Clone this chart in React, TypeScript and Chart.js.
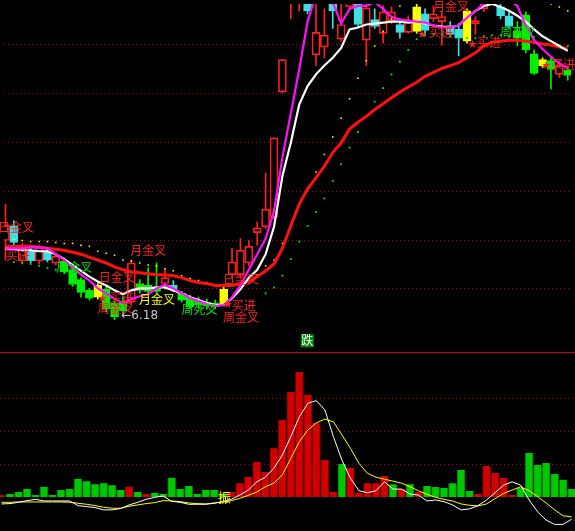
import React, { useEffect, useRef } from "react";
import { Chart, registerables } from "chart.js";

Chart.register(...registerables);

// ---------- axes ranges ----------
const X_MIN = -0.176;
const X_MAX = 67.39;
const PRICE_MIN = 5.89;
const PRICE_MAX = 9.41;
const VOL_MIN = -10.3;
const VOL_MAX = 43.94;

const priceGrid = [6.5, 7.0, 7.5, 8.0, 8.5, 9.0];
const volumeGrid = [10, 20, 30];

// ---------- candles ----------
const candleOpen = [6.99, 7.14, 6.78, 6.88, 6.78, 6.88, 6.76, 6.78, 6.69, 6.59,
  6.48, 6.53, 6.49, 6.35, 6.36, 6.36, 6.55, 6.53, 6.50, 6.55,
  6.53, 6.45, 6.41, 6.38, 6.36, 6.35, 6.49, 6.64, 6.64, 6.76,
  7.07, 7.13, 7.23, 8.51, 9.46, 9.51, 9.61, 8.89, 8.97, 9.46,
  9.05, 9.38, 9.44, 9.04, 9.25, 9.11, 9.24, 9.20, 9.12, 9.38,
  9.31, 9.26, 9.23, 9.19, 9.15, 9.34, 9.21, 9.36, 9.44, 9.38,
  9.29, 9.13, 9.30, 8.90, 8.84, 8.83, 8.69, 8.73];
const candleClose = [7.15, 6.97, 6.91, 6.78, 6.92, 6.79, 6.83, 6.67, 6.54, 6.46,
  6.40, 6.41, 6.29, 6.21, 6.27, 6.76, 6.48, 6.47, 6.47, 6.61,
  6.49, 6.38, 6.31, 6.33, 6.32, 6.31, 6.34, 6.77, 6.89, 6.93,
  7.12, 7.31, 8.04, 8.84, 9.81, 9.91, 9.34, 9.12, 9.09, 9.34,
  9.20, 9.49, 9.20, 9.37, 9.18, 9.33, 9.33, 9.12, 9.23, 9.13,
  9.14, 9.31, 9.28, 9.10, 9.06, 9.03, 9.24, 9.51, 9.56, 9.29,
  9.18, 9.06, 8.94, 8.70, 8.78, 8.74, 8.78, 8.68];
const candleHigh = [7.36, 7.19, 6.96, 6.91, 6.94, 6.90, 6.86, 6.81, 6.71, 6.61,
  6.50, 6.55, 6.51, 6.37, 6.41, 6.79, 6.59, 6.71, 6.76, 6.69,
  6.58, 6.47, 6.43, 6.41, 6.39, 6.38, 6.51, 6.91, 7.01, 6.99,
  7.18, 7.68, 8.04, 8.84, 9.86, 9.96, 9.66, 9.46, 9.36, 9.51,
  9.43, 9.56, 9.46, 9.43, 9.36, 9.39, 9.38, 9.26, 9.29, 9.41,
  9.36, 9.39, 9.33, 9.23, 9.21, 9.36, 9.28, 9.56, 9.61, 9.43,
  9.33, 9.23, 9.33, 8.94, 8.86, 8.86, 8.83, 8.77];
const candleLow = [6.79, 6.91, 6.75, 6.76, 6.75, 6.77, 6.74, 6.65, 6.52, 6.41,
  6.38, 6.39, 6.26, 6.18, 6.23, 6.33, 6.45, 6.45, 6.45, 6.49,
  6.47, 6.36, 6.29, 6.30, 6.29, 6.29, 6.32, 6.61, 6.62, 6.73,
  6.94, 7.11, 7.21, 8.50, 9.26, 9.34, 9.31, 8.78, 8.86, 9.16,
  9.03, 9.36, 9.18, 8.78, 9.16, 9.01, 9.21, 9.06, 9.11, 9.11,
  9.09, 9.23, 8.99, 9.08, 8.88, 9.01, 9.10, 9.33, 9.41, 9.26,
  9.16, 8.98, 8.91, 8.69, 8.76, 8.54, 8.66, 8.63];
// r = red hollow, c = cyan, g = green, y = yellow
const candleKind = ["r", "c", "r", "c", "r", "c", "r", "g", "g", "g",
  "g", "y", "g", "g", "g", "r", "g", "g", "g", "r",
  "c", "g", "g", "g", "g", "g", "y", "r", "r", "r",
  "r", "r", "r", "r", "r", "r", "c", "r", "r", "c",
  "r", "r", "c", "r", "c", "r", "r", "c", "r", "y",
  "c", "r", "r", "c", "c", "y", "r", "r", "r", "c",
  "c", "g", "g", "g", "y", "g", "r", "g"];

// ---------- price lines ----------
const lineWhite = [6.91, 6.90, 6.89, 6.89, 6.88, 6.88, 6.85, 6.80, 6.74, 6.68,
  6.62, 6.57, 6.53, 6.48, 6.44, 6.48, 6.50, 6.50, 6.51, 6.51,
  6.48, 6.45, 6.41, 6.38, 6.35, 6.33, 6.33, 6.40, 6.49, 6.61,
  6.69, 6.85, 7.13, 7.65, 7.99, 8.38, 8.57, 8.69, 8.78, 8.86,
  8.96, 9.15, 9.17, 9.20, 9.21, 9.22, 9.23, 9.23, 9.22, 9.23,
  9.21, 9.19, 9.18, 9.17, 9.19, 9.27, 9.34, 9.39, 9.41, 9.38,
  9.34, 9.29, 9.23, 9.15, 9.08, 9.03, 8.98, 8.93];
const lineMagenta = [6.91, 6.91, 6.91, 6.92, 6.92, 6.91, 6.85, 6.79, 6.71, 6.64,
  6.58, 6.50, 6.45, 6.39, 6.35, 6.39, 6.42, 6.44, 6.50, 6.54,
  6.50, 6.45, 6.40, 6.37, 6.34, 6.32, 6.33, 6.41, 6.53, 6.69,
  6.85, 7.01, 7.29, 7.84, 8.29, 8.74, 9.23, 9.51, 9.49, 9.43,
  9.21, 9.36, 9.39, 9.39, 9.43, 9.36, 9.28, 9.25, 9.24, 9.23,
  9.22, 9.19, 9.17, 9.17, 9.19, 9.27, 9.34, 9.41, 9.46, 9.49,
  9.45, 9.39, 9.19, 9.04, 8.95, 8.87, 8.80, 8.76];
const lineRed = [6.93, 6.93, 6.93, 6.93, 6.92, 6.91, 6.90, 6.89, 6.87, 6.85,
  6.82, 6.79, 6.76, 6.72, 6.69, 6.67, 6.66, 6.65, 6.64, 6.64,
  6.63, 6.61, 6.58, 6.56, 6.55, 6.53, 6.53, 6.53, 6.55, 6.57,
  6.62, 6.68, 6.75, 6.91, 7.14, 7.36, 7.52, 7.63, 7.75, 7.89,
  7.99, 8.13, 8.20, 8.26, 8.33, 8.39, 8.45, 8.51, 8.56, 8.61,
  8.67, 8.71, 8.75, 8.78, 8.81, 8.86, 8.91, 8.98, 9.02, 9.03,
  9.04, 9.04, 9.03, 9.02, 9.00, 8.99, 8.97, 8.95];
const dotsYellow = [null, 7.00, 6.99, 6.98, 6.98, 6.98, 6.97, 6.96, 6.96, 6.94,
  6.93, 6.88, 6.86, 6.84, 6.79, 6.78, 6.76, 6.74, 6.73, 6.70,
  6.68, 6.63, 6.60, 6.58, 6.56, null, null, null, null, null,
  6.64, 6.73, 6.79, 6.96, 7.15, 7.34, 7.53, 7.69, 7.87, 8.05,
  8.24, 8.44, 8.65, 8.83, 8.98, 9.13, 9.26, 9.39, null, null,
  null, null, null, null, null, null, null, null, null, null,
  null, null, null, null, null, 9.41, 9.38, 9.34];
const dotsGreen = [null, 6.77, 6.76, 6.75, 6.73, 6.71, 6.69, null, null, null,
  null, null, null, null, null, null, null, null, null, null,
  null, null, null, null, null, null, null, null, null, null,
  null, 6.45, 6.51, 6.63, 6.80, 6.98, 7.14, 7.28, 7.42, 7.60,
  7.77, 7.94, 8.10, 8.26, 8.41, 8.55, 8.69, 8.82, 8.94, 9.05,
  9.09, 9.10, 9.10, 9.08, 9.06, 9.06, 9.06, 9.08, 9.09, 9.09,
  9.08, 9.05, 9.03, 9.01, 9.00, 8.99, 8.99, 8.98];

// ---------- lower panel ----------
const volume = [0.5, 0.9, 1.5, 2.4, 0.6, 3.1, 0.6, 2.1, 2.4, 5.5,
  4.8, 3.9, 4.2, 3.6, 2.1, 3.1, 1.5, 0.9, 1.2, 0.9,
  5.8, 2.4, 3.3, 0.9, 2.1, 2.1, 1.0, 1.5, 4.2, 6.1,
  10.6, 7.6, 14.8, 23.3, 31.8, 37.9, 30.9, 22.4, 11.2, 1.5,
  10.0, 8.8, 1.2, 4.2, 4.2, 6.4, 3.9, 2.4, 3.9, 1.5,
  3.3, 3.0, 2.7, 4.2, 8.2, 1.8, 0.9, 9.4, 7.3, 5.8,
  0.6, 2.7, 13.3, 9.7, 10.3, 7.0, 5.2, 2.4];
// r = rising (red), g = falling (green)
const volumeKind = ["r", "g", "g", "g", "g", "g", "g", "g", "g", "g",
  "g", "g", "g", "g", "g", "r", "g", "r", "g", "g",
  "g", "g", "g", "g", "g", "g", "g", "r", "r", "r",
  "r", "r", "r", "r", "r", "r", "r", "r", "r", "r",
  "g", "r", "r", "r", "r", "r", "g", "r", "g", "r",
  "g", "g", "g", "g", "g", "g", "r", "r", "r", "r",
  "r", "g", "g", "g", "g", "g", "g", "g"];
const oscWhite = [-2.1, -2.0, -1.6, -1.1, -0.7, -1.2, -1.2, -1.2, -1.2, -2.6,
  -2.9, -3.2, -3.9, -3.9, -3.5, -2.4, -1.6, -0.7, -0.1, 0.3,
  -1.3, -1.6, -2.2, -2.2, -2.2, -1.9, -1.4, -0.7, 0.6, 2.1,
  4.6, 6.0, 8.7, 12.7, 18.3, 24.3, 28.4, 29.2, 26.4, 18.3,
  11.2, 5.7, 1.9, 1.3, 1.9, 4.6, 2.4, 2.4, 0.9, 0.6,
  -1.2, -0.9, -1.4, -2.4, -3.9, -3.6, -2.6, -0.9, 1.3, 3.6,
  4.6, 3.6, -0.9, -4.5, -7.0, -8.3, -8.3, -6.7];
const oscYellow = [-1.6, -1.6, -1.5, -1.5, -1.5, -1.5, -1.5, -1.5, -1.6, -1.9,
  -2.2, -2.6, -3.1, -3.4, -3.4, -2.8, -2.4, -2.0, -1.7, -1.1,
  -1.2, -1.4, -1.8, -2.0, -2.1, -1.8, -1.5, -1.1, -0.4, 0.5,
  1.5, 3.1, 4.2, 6.7, 11.7, 16.8, 20.3, 22.5, 23.6, 22.8,
  18.8, 14.8, 10.2, 7.2, 6.0, 5.4, 4.8, 4.2, 3.1, 1.9,
  0.8, -0.1, -0.7, -1.2, -2.1, -2.5, -2.7, -2.1, -0.5, 1.1,
  2.1, 3.1, 1.9, 0.1, -1.8, -3.9, -5.7, -6.0];

// ---------- signal texts: [bar position, price, text, color] ----------
const signalTexts: [number, number, string, string][] = [
  [-0.88, 7.18, "日金叉", "#ff2020"],
  [0.06, 6.90, "买进", "#ff2020"],
  [6.05, 6.78, "周金叉", "#00e000"],
  [14.86, 6.95, "月金叉", "#ff2020"],
  [11.1, 6.67, "日金叉", "#ff2020"],
  [12.4, 6.47, "买进", "#ff2020"],
  [11.0, 6.36, "周金叉", "#ff2020"],
  [15.92, 6.45, "月金叉", "#ffff00"],
  [20.97, 6.35, "周死叉", "#00e000"],
  [25.91, 6.65, "日金叉", "#ff2020"],
  [26.97, 6.39, "买进", "#ff2020"],
  [25.91, 6.26, "周金叉", "#ff2020"],
  [50.94, 9.45, "月金叉", "#ff2020"],
  [50.47, 9.18, "买进", "#ff2020"],
  [56.2, 9.08, "买进", "#ff2020"],
  [58.93, 9.18, "周死叉", "#00e000"],
  [65.04, 8.85, "买进", "#ff2020"],
];
const starMarks: [number, number][] = [
  [11.57, 6.41], [26.5, 6.34], [49.65, 9.11], [55.64, 9.01], [64.45, 8.79],
];
const lowMark: [number, number, string] = [13.8, 6.22, "←6.18"];
const fallMark: [number, number, string] = [35.19, 6.02, "跌"];
const swingMark: [number, number, string] = [25.44, 2.1, "振"];

const KIND_COLOR: Record<string, string> = {
  r: "#ff2020",
  c: "#3ee0e0",
  g: "#00f000",
  y: "#ffff00",
};

const CJK = '"Noto Sans CJK SC", "Noto Sans", sans-serif';

export default function App() {
  const topRef = useRef<HTMLCanvasElement | null>(null);
  const botRef = useRef<HTMLCanvasElement | null>(null);

  useEffect(() => {
    document.body.style.margin = "0";
    document.body.style.background = "#000";
    const idx = candleOpen.map((_, i) => i);
    const kindCol = candleKind.map((k) => KIND_COLOR[k]);

    const bgPlugin = {
      id: "bg",
      beforeDraw(chart: any) {
        const { ctx, width, height } = chart;
        ctx.save();
        ctx.fillStyle = "#000";
        ctx.fillRect(0, 0, width, height);
        ctx.restore();
      },
    };

    const topPlugin = {
      id: "topDecor",
      beforeDatasetsDraw(chart: any) {
        const { ctx, chartArea, scales } = chart;
        ctx.save();
        ctx.strokeStyle = "#b00000";
        ctx.lineWidth = 1;
        ctx.setLineDash([1, 3]);
        for (const g of priceGrid) {
          const y = Math.round(scales.y.getPixelForValue(g)) + 0.5;
          ctx.beginPath();
          ctx.moveTo(chartArea.left, y);
          ctx.lineTo(chartArea.right, y);
          ctx.stroke();
        }
        ctx.restore();
      },
      afterDatasetsDraw(chart: any) {
        const { ctx, scales } = chart;
        const xs = scales.x;
        const ys = scales.y;
        ctx.save();
        ctx.textAlign = "left";
        ctx.textBaseline = "top";
        ctx.font = `12px ${CJK}`;
        for (const [px, py, t, c] of signalTexts) {
          ctx.fillStyle = c;
          ctx.fillText(t, xs.getPixelForValue(px), ys.getPixelForValue(py));
        }
        ctx.font = `9px ${CJK}`;
        ctx.textAlign = "center";
        ctx.textBaseline = "middle";
        ctx.fillStyle = "#ff2020";
        for (const [px, py] of starMarks) {
          ctx.fillText("★", xs.getPixelForValue(px), ys.getPixelForValue(py));
        }
        // low price marker
        ctx.textAlign = "left";
        ctx.font = '12px "DejaVu Sans", sans-serif';
        ctx.fillStyle = "#c8c8c8";
        ctx.fillText(lowMark[2], xs.getPixelForValue(lowMark[0]), ys.getPixelForValue(lowMark[1]));
        // fall marker
        const fx = xs.getPixelForValue(fallMark[0]);
        const fy = ys.getPixelForValue(fallMark[1]);
        ctx.fillStyle = "#008a00";
        ctx.fillRect(fx, fy - 1, 13, 13);
        ctx.fillStyle = "#ffffff";
        ctx.textBaseline = "top";
        ctx.font = `12px ${CJK}`;
        ctx.fillText(fallMark[2], fx + 0.5, fy - 1);
        ctx.restore();
      },
    };

    const top = new Chart(topRef.current as HTMLCanvasElement, {
      type: "bar",
      data: {
        datasets: [
          {
            type: "bar",
            label: "upper wick",
            data: idx.map((i) => ({ x: i, y: [Math.max(candleOpen[i], candleClose[i]), candleHigh[i]] })) as any,
            backgroundColor: kindCol,
            barThickness: 1,
            grouped: false,
            order: 8,
          } as any,
          {
            type: "bar",
            label: "lower wick",
            data: idx.map((i) => ({ x: i, y: [candleLow[i], Math.min(candleOpen[i], candleClose[i])] })) as any,
            backgroundColor: kindCol,
            barThickness: 1,
            grouped: false,
            order: 8,
          } as any,
          {
            type: "bar",
            label: "body",
            data: idx.map((i) => ({ x: i, y: [candleOpen[i], candleClose[i]] })) as any,
            backgroundColor: candleKind.map((k) => (k === "r" ? "rgba(0,0,0,0)" : KIND_COLOR[k])),
            borderColor: kindCol,
            borderWidth: 1,
            borderSkipped: false,
            barThickness: 8,
            grouped: false,
            order: 7,
          } as any,
          {
            type: "line",
            label: "upper dots",
            data: idx.map((i) => ({ x: i, y: dotsYellow[i] })),
            showLine: false,
            pointStyle: "rect",
            pointRadius: 1.1,
            pointBorderWidth: 0,
            pointBackgroundColor: "#ffff00",
            order: 6,
          } as any,
          {
            type: "line",
            label: "lower dots",
            data: idx.map((i) => ({ x: i, y: dotsGreen[i] })),
            showLine: false,
            pointStyle: "rect",
            pointRadius: 1.3,
            pointBorderWidth: 0,
            pointBackgroundColor: "#00e000",
            order: 6,
          } as any,
          {
            type: "line",
            label: "red",
            data: idx.map((i) => ({ x: i, y: lineRed[i] })),
            borderColor: "#ff1010",
            borderWidth: 3,
            pointRadius: 0,
            tension: 0,
            order: 3,
          } as any,
          {
            type: "line",
            label: "white",
            data: idx.map((i) => ({ x: i, y: lineWhite[i] })),
            borderColor: "#ffffff",
            borderWidth: 2.2,
            pointRadius: 0,
            tension: 0,
            order: 2,
          } as any,
          {
            type: "line",
            label: "magenta",
            data: idx.map((i) => ({ x: i, y: lineMagenta[i] })),
            borderColor: "#ff10ff",
            borderWidth: 2.2,
            pointRadius: 0,
            tension: 0,
            order: 1,
          } as any,
        ],
      },
      options: {
        animation: false,
        responsive: false,
        maintainAspectRatio: false,
        events: [],
        layout: { padding: 0 },
        plugins: { legend: { display: false }, tooltip: { enabled: false } },
        scales: {
          x: { type: "linear", min: X_MIN, max: X_MAX, offset: false, display: false },
          y: { type: "linear", min: PRICE_MIN, max: PRICE_MAX, display: false },
        },
      } as any,
      plugins: [bgPlugin, topPlugin],
    });

    const botPlugin = {
      id: "botDecor",
      beforeDatasetsDraw(chart: any) {
        const { ctx, chartArea, scales } = chart;
        ctx.save();
        ctx.strokeStyle = "#d00000";
        ctx.lineWidth = 1;
        ctx.beginPath();
        ctx.moveTo(chartArea.left, chartArea.top + 0.5);
        ctx.lineTo(chartArea.right, chartArea.top + 0.5);
        ctx.stroke();
        ctx.strokeStyle = "#b00000";
        ctx.setLineDash([1, 3]);
        for (const g of volumeGrid) {
          const y = Math.round(scales.y.getPixelForValue(g)) + 0.5;
          ctx.beginPath();
          ctx.moveTo(chartArea.left, y);
          ctx.lineTo(chartArea.right, y);
          ctx.stroke();
        }
        ctx.restore();
      },
      afterDatasetsDraw(chart: any) {
        const { ctx, scales } = chart;
        ctx.save();
        ctx.font = `13px ${CJK}`;
        ctx.textAlign = "left";
        ctx.textBaseline = "top";
        ctx.fillStyle = "#ffff00";
        ctx.fillText(swingMark[2], scales.x.getPixelForValue(swingMark[0]), scales.y.getPixelForValue(swingMark[1]));
        ctx.restore();
      },
    };

    const bot = new Chart(botRef.current as HTMLCanvasElement, {
      type: "bar",
      data: {
        datasets: [
          {
            type: "bar",
            label: "volume",
            data: idx.map((i) => ({ x: i, y: volume[i] })) as any,
            backgroundColor: volumeKind.map((k) => (k === "r" ? "#d00000" : "#00c800")),
            borderColor: volumeKind.map((k) => (k === "r" ? "#7a0000" : "#007000")),
            borderWidth: { left: 1, right: 1, top: 0, bottom: 0 },
            borderSkipped: false,
            barThickness: 8,
            grouped: false,
            order: 5,
          } as any,
          {
            type: "line",
            label: "osc yellow",
            data: idx.map((i) => ({ x: i, y: oscYellow[i] })),
            borderColor: "#ffff00",
            borderWidth: 1,
            pointRadius: 0,
            tension: 0,
            order: 2,
          } as any,
          {
            type: "line",
            label: "osc white",
            data: idx.map((i) => ({ x: i, y: oscWhite[i] })),
            borderColor: "#ffffff",
            borderWidth: 1,
            pointRadius: 0,
            tension: 0,
            order: 1,
          } as any,
        ],
      },
      options: {
        animation: false,
        responsive: false,
        maintainAspectRatio: false,
        events: [],
        layout: { padding: 0 },
        plugins: { legend: { display: false }, tooltip: { enabled: false } },
        scales: {
          x: { type: "linear", min: X_MIN, max: X_MAX, offset: false, display: false },
          y: { type: "linear", min: VOL_MIN, max: VOL_MAX, display: false },
        },
      } as any,
      plugins: [bgPlugin, botPlugin],
    });

    return () => {
      top.destroy();
      bot.destroy();
    };
  }, []);

  return (
    <div style={{ width: 575, height: 531, background: "#000", overflow: "hidden" }}>
      <canvas ref={topRef} width={575} height={352} style={{ display: "block", width: 575, height: 352 }} />
      <canvas ref={botRef} width={575} height={179} style={{ display: "block", width: 575, height: 179 }} />
    </div>
  );
}
